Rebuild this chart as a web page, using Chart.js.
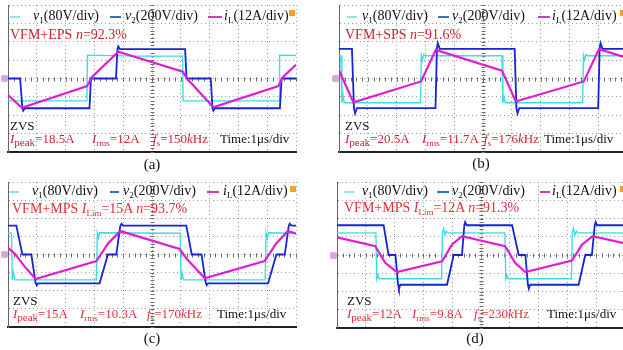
<!DOCTYPE html>
<html>
<head>
<meta charset="utf-8">
<script src="https://cdn.jsdelivr.net/npm/chart.js@4.4.0/dist/chart.umd.min.js"></script>
<style>
  html, body { margin: 0; padding: 0; background: #fff; overflow: hidden; }
  #fig { position: relative; width: 623px; height: 350px; overflow: hidden; font-family: "Liberation Serif", "Times New Roman", serif; }
  canvas { position: absolute; }
  .t { position: absolute; font-size: 13px; line-height: 13px; white-space: nowrap; color: #111; }
  .big { font-size: 14px; line-height: 14px; }
  .r { color: #c8262e; }
  .r2 { color: #e2303a; }
  .t sub { font-size: 9px; vertical-align: -3px; line-height: 0; }
  .t sub.pk { font-size: 11px; }
  .ln { position: absolute; height: 2px; }
  .cap { position: absolute; font-size: 15px; line-height: 15px; transform: translateX(-50%); color: #111; }
  .mk { position: absolute; width: 7px; height: 7px; background: #d9a6dd; border-radius: 2px; }
  .trg { position: absolute; width: 6px; height: 6px; background: #f2a22c; }
</style>
</head>
<body>
<div id="fig">
  <canvas id="ca" width="294" height="153" style="left:5px;top:2px"></canvas>
  <canvas id="cb" width="294" height="153" style="left:336px;top:2px"></canvas>
  <canvas id="cc" width="294" height="151" style="left:5px;top:179px"></canvas>
  <canvas id="cd" width="294" height="152" style="left:334px;top:179px"></canvas>

  <!-- (a) -->
  <div class="ln" style="left:10px;top:16px;width:10px;background:#8fe6e6"></div>
  <div class="t big" style="left:33px;top:9px"><i>v</i><sub>1</sub>(80V/div)</div>
  <div class="ln" style="left:110px;top:16px;width:11px;background:#2a74c6"></div>
  <div class="t big" style="left:125px;top:9px"><i>v</i><sub>2</sub>(200V/div)</div>
  <div class="ln" style="left:208px;top:16px;width:14px;background:#d23cb8"></div>
  <div class="t big" style="left:224px;top:9px"><i>i</i><sub>L</sub>(12A/div)</div>
  <div class="t big r" style="left:10px;top:28px">VFM+EPS <i>n</i>=92.3%</div>
  <div class="t" style="left:10px;top:119px">ZVS</div>
  <div class="t r" style="left:10px;top:132px"><i>I</i><sub class="pk">peak</sub>=18.5A</div>
  <div class="t r" style="left:92px;top:132px"><i>I</i><sub>rms</sub>=12A</div>
  <div class="t r" style="left:153px;top:132px"><i>f</i><sub>s</sub>=150<i>k</i>Hz</div>
  <div class="t" style="left:220px;top:132px">Time:1μs/div</div>
  <div class="cap" style="left:152px;top:157px">(a)</div>

  <!-- (b) -->
  <div class="ln" style="left:347px;top:16px;width:10px;background:#8fe6e6"></div>
  <div class="t big" style="left:362px;top:9px"><i>v</i><sub>1</sub>(80V/div)</div>
  <div class="ln" style="left:438px;top:16px;width:11px;background:#2a74c6"></div>
  <div class="t big" style="left:452px;top:9px"><i>v</i><sub>2</sub>(200V/div)</div>
  <div class="ln" style="left:538px;top:16px;width:12px;background:#d23cb8"></div>
  <div class="t big" style="left:552px;top:9px"><i>i</i><sub>L</sub>(12A/div)</div>
  <div class="t big r" style="left:345px;top:28px">VFM+SPS <i>n</i>=91.6%</div>
  <div class="t" style="left:345px;top:119px">ZVS</div>
  <div class="t r" style="left:345px;top:132px"><i>I</i><sub class="pk">peak</sub>=20.5A</div>
  <div class="t r" style="left:422px;top:132px"><i>I</i><sub>rms</sub>=11.7A</div>
  <div class="t r" style="left:484px;top:132px"><i>f</i><sub>s</sub>=176<i>k</i>Hz</div>
  <div class="t" style="left:544px;top:132px">Time:1μs/div</div>
  <div class="cap" style="left:481px;top:156px">(b)</div>

  <!-- (c) -->
  <div class="ln" style="left:9px;top:191px;width:10px;background:#8fe6e6"></div>
  <div class="t big" style="left:32px;top:184px"><i>v</i><sub>1</sub>(80V/div)</div>
  <div class="ln" style="left:110px;top:191px;width:9px;background:#2a74c6"></div>
  <div class="t big" style="left:123px;top:184px"><i>v</i><sub>2</sub>(200V/div)</div>
  <div class="ln" style="left:207px;top:191px;width:12px;background:#d23cb8"></div>
  <div class="t big" style="left:223px;top:184px"><i>i</i><sub>L</sub>(12A/div)</div>
  <div class="t big r2" style="left:12px;top:202px">VFM+MPS <i>I</i><sub>Lim</sub>=15A <i>n</i>=93.7%</div>
  <div class="t" style="left:13px;top:294px">ZVS</div>
  <div class="t r2" style="left:13px;top:307px"><i>I</i><sub class="pk">peak</sub>=15A</div>
  <div class="t r2" style="left:80px;top:307px"><i>I</i><sub>rms</sub>=10.3A</div>
  <div class="t r2" style="left:147px;top:307px"><i>f</i><sub>s</sub>=170<i>k</i>Hz</div>
  <div class="t" style="left:217px;top:307px">Time:1μs/div</div>
  <div class="cap" style="left:152px;top:331px">(c)</div>

  <!-- (d) -->
  <div class="ln" style="left:344px;top:191px;width:10px;background:#8fe6e6"></div>
  <div class="t big" style="left:362px;top:184px"><i>v</i><sub>1</sub>(80V/div)</div>
  <div class="ln" style="left:437px;top:191px;width:12px;background:#2a74c6"></div>
  <div class="t big" style="left:452px;top:184px"><i>v</i><sub>2</sub>(200V/div)</div>
  <div class="ln" style="left:540px;top:191px;width:10px;background:#d23cb8"></div>
  <div class="t big" style="left:552px;top:184px"><i>i</i><sub>L</sub>(12A/div)</div>
  <div class="t big r2" style="left:344px;top:201px">VFM+MPS <i>I</i><sub>Lim</sub>=12A <i>n</i>=91.3%</div>
  <div class="t" style="left:347px;top:294px">ZVS</div>
  <div class="t r2" style="left:347px;top:307px"><i>I</i><sub class="pk">peak</sub>=12A</div>
  <div class="t r2" style="left:412px;top:307px"><i>I</i><sub>rms</sub>=9.8A</div>
  <div class="t r2" style="left:474px;top:307px"><i>f</i><sub>s</sub>=230<i>k</i>Hz</div>
  <div class="t" style="left:547px;top:307px">Time:1μs/div</div>
  <div class="cap" style="left:475px;top:331px">(d)</div>

  <!-- channel / trigger markers -->
  <div class="mk" style="left:1px;top:75px"></div>
  <div class="mk" style="left:332px;top:75px"></div>
  <div class="mk" style="left:1px;top:251px"></div>
  <div class="mk" style="left:330px;top:252px"></div>
  <div class="trg" style="left:289px;top:10px"></div>
  <div class="trg" style="left:620px;top:10px"></div>
  <div class="trg" style="left:290px;top:186px"></div>
  <div class="trg" style="left:620px;top:186px"></div>
</div>

<script>
// traces: [time (us), value (div)]
const a_v1 = [[0,-1.22],[2.74,-1.22],[2.76,1.27],[4.5,1.22],[6.06,1.22],[6.08,-1.22],[9.41,-1.22],[9.43,1.27],[10,1.25]];
const a_v2 = [[0,0],[0.42,0],[0.5,-1.62],[0.53,-1.75],[0.58,-1.62],[2.83,-1.62],[2.88,0],[3.75,0],[3.8,1.6],[3.83,1.75],[3.88,1.6],[6.15,1.6],[6.2,0],[7.04,0],[7.1,-1.62],[7.13,-1.75],[7.18,-1.62],[9.44,-1.62],[9.5,0],[10,0]];
const a_iL = [[0,-0.9],[0.48,-1.59],[2.75,-0.41],[2.91,0.07],[3.83,1.46],[6.07,0.37],[6.23,-0.03],[7.13,-1.57],[9.39,-0.41],[9.54,0.07],[10,0.75]];

const b_v1 = [[0,1.24],[0.07,1.24],[0.1,-1.32],[0.14,-0.9],[0.18,-1.32],[2.83,-1.32],[2.86,1.24],[2.9,1.0],[2.94,1.3],[3.0,1.24],[5.66,1.24],[5.69,-1.32],[5.73,-1.0],[5.77,-1.32],[8.46,-1.32],[8.49,1.24],[8.53,1.0],[8.57,1.3],[8.63,1.24],[10,1.24]];
const b_v2 = [[0,1.61],[0.45,1.61],[0.52,-1.61],[0.56,-1.9],[0.62,-1.61],[3.35,-1.61],[3.4,1.61],[3.43,1.92],[3.5,1.61],[6.1,1.61],[6.16,-1.61],[6.2,-1.9],[6.26,-1.61],[9.0,-1.61],[9.05,1.61],[9.08,1.92],[9.15,1.61],[10,1.61]];
const b_iL = [[0,0.45],[0.5,-1.3],[2.85,-0.16],[3.36,1.56],[5.66,0.43],[6.14,-1.25],[8.5,-0.16],[9.03,1.6],[10,1.12]];

const c_v1 = [[0,1.17],[0.12,1.17],[0.15,-1.4],[0.19,-1.0],[0.23,-1.4],[3.07,-1.4],[3.1,1.17],[3.14,0.9],[3.18,1.2],[5.98,1.17],[6.01,-1.4],[6.05,-1.05],[6.09,-1.4],[8.93,-1.4],[8.96,1.17],[9.0,0.9],[9.04,1.2],[10,1.17]];
const c_v2 = [[0,1.59],[0.29,1.59],[0.5,0],[0.81,0],[0.96,-1.59],[1.0,-1.7],[1.05,-1.59],[3.18,-1.59],[3.47,0],[3.76,0],[3.9,1.59],[3.94,1.7],[4.0,1.59],[6.19,1.59],[6.38,0],[6.72,0],[6.87,-1.59],[6.9,-1.7],[6.95,-1.59],[9.03,-1.59],[9.32,0],[9.61,0],[9.75,1.59],[9.78,1.7],[9.84,1.59],[10,1.59]];
const c_iL = [[0,0.37],[0.23,0.06],[0.58,-0.67],[0.96,-1.35],[3.07,-0.36],[3.48,0.62],[3.9,1.29],[5.96,0.3],[6.19,-0.21],[6.83,-1.31],[8.91,-0.36],[9.32,0.62],[9.72,1.29],[10,1.15]];

const d_v1 = [[0,1.21],[1.35,1.21],[1.38,-1.3],[1.42,-1.1],[1.46,-1.3],[3.63,-1.3],[3.66,1.21],[3.7,1.45],[3.75,1.1],[3.8,1.3],[3.86,1.21],[5.83,1.21],[5.86,-1.3],[5.9,-1.1],[5.94,-1.3],[8.14,-1.3],[8.17,1.21],[8.21,1.45],[8.26,1.1],[8.31,1.3],[8.37,1.21],[10,1.21]];
const d_v2 = [[0,1.63],[1.62,1.63],[1.79,0],[2.03,0],[2.12,-1.63],[2.15,-1.85],[2.2,-1.63],[3.82,-1.63],[4.05,0],[4.34,0],[4.42,1.63],[4.45,1.8],[4.5,1.63],[6.08,1.63],[6.31,0],[6.54,0],[6.63,-1.63],[6.66,-1.85],[6.71,-1.63],[8.39,-1.63],[8.62,0],[8.85,0],[8.95,1.63],[8.98,1.8],[9.03,1.63],[10,1.63]];
const d_iL = [[0,0.97],[1.33,0.48],[1.68,-0.44],[2.08,-0.93],[3.65,-0.35],[3.99,0.57],[4.34,1.03],[5.84,0.48],[6.19,-0.44],[6.54,-0.93],[8.16,-0.31],[8.51,0.57],[8.88,1.03],[10,0.63]];

const X_MIN = 0, X_MAX = 10, Y_MIN = -4, Y_MAX = 4;

const CYAN = '#3fdede', BLUE = '#1626d2', MAGENTA = '#e01cd4';

function pts(arr) { return arr.map(p => ({ x: p[0], y: p[1] })); }

// center crosshair with minor ticks, like a scope screen
const scopeGrid = {
  id: 'scopeGrid',
  beforeDatasetsDraw(chart) {
    const { ctx, scales: { x, y } } = chart;
    const cx = Math.round(x.getPixelForValue(5)) + 0.5;
    const cy = Math.round(y.getPixelForValue(0)) + 0.5;
    ctx.save();
    ctx.strokeStyle = '#6a6a6a';
    ctx.lineWidth = 1;
    ctx.beginPath();
    for (let i = 0; i <= 50; i++) {
      const px = Math.round(x.getPixelForValue(i * 0.2)) + 0.5;
      ctx.moveTo(px, cy - 2); ctx.lineTo(px, cy + 2);
    }
    for (let i = 0; i <= 40; i++) {
      const py = Math.round(y.getPixelForValue(-4 + i * 0.2)) + 0.5;
      ctx.moveTo(cx - 2, py); ctx.lineTo(cx + 2, py);
    }
    ctx.stroke();
    ctx.restore();
  }
};

function makeScope(id, v1, v2, iL) {
  const ctx = document.getElementById(id).getContext('2d');
  return new Chart(ctx, {
    type: 'line',
    data: {
      datasets: [
        { data: pts(iL), borderColor: MAGENTA, borderWidth: 2.2, order: 0 },
        { data: pts(v2), borderColor: BLUE, borderWidth: 1.8, order: 1 },
        { data: pts(v1), borderColor: CYAN, borderWidth: 1.4, order: 2 },
      ],
    },
    options: {
      responsive: false,
      animation: false,
      events: [],
      layout: { padding: 3 },
      elements: { point: { radius: 0 }, line: { tension: 0 } },
      plugins: { legend: { display: false }, tooltip: { enabled: false } },
      scales: {
        x: {
          type: 'linear', min: X_MIN, max: X_MAX,
          ticks: { display: false, stepSize: 1 },
          grid: { color: '#9a9a9a', lineWidth: 1, drawTicks: false },
          border: { display: true, color: '#222', width: 2, dash: [1, 3] },
        },
        y: {
          min: Y_MIN, max: Y_MAX,
          ticks: { display: false, stepSize: 1 },
          grid: { color: '#9a9a9a', lineWidth: 1, drawTicks: false },
          border: { display: true, color: '#666', width: 1, dash: [1, 3] },
        },
      },
    },
    plugins: [scopeGrid],
  });
}

makeScope('ca', a_v1, a_v2, a_iL);
makeScope('cb', b_v1, b_v2, b_iL);
makeScope('cc', c_v1, c_v2, c_iL);
makeScope('cd', d_v1, d_v2, d_iL);
</script>
</body>
</html>
